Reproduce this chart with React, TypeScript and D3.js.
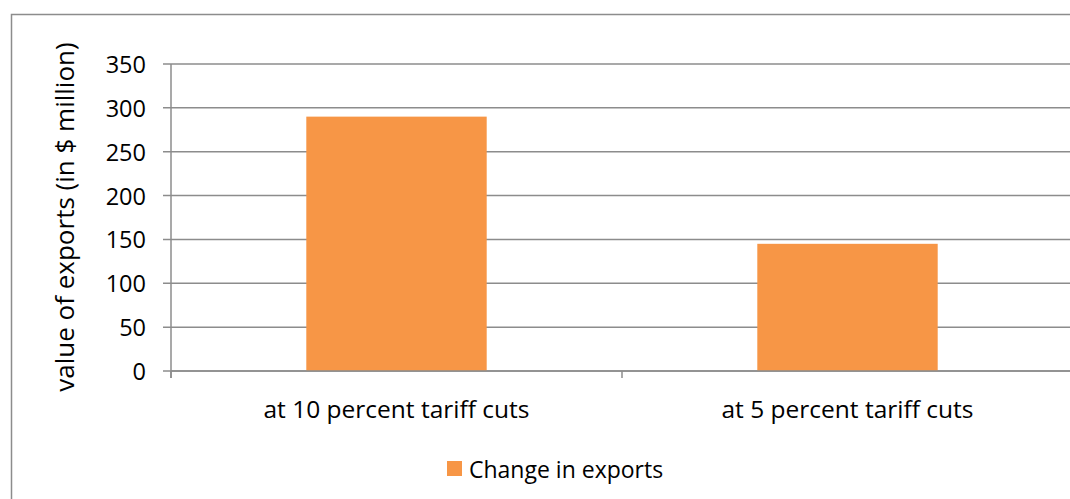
import React from "react";
import * as d3 from "d3";

const categories = ["at 10 percent tariff cuts", "at 5 percent tariff cuts"];
const values = [290, 145];
const yTicks = [0, 50, 100, 150, 200, 250, 300, 350];
const seriesName = "Change in exports";
const yTitle = "value of exports (in $ million)";

const W = 1070;
const H = 499;
const FONT = "'Open Sans', 'Liberation Sans', sans-serif";

export default function App() {
  const left = 171;
  const right = 1073;
  const top = 64;
  const bottom = 371;
  const x = d3.scaleBand<string>().domain(categories).range([left, right]).paddingInner(0).paddingOuter(0);
  const y = d3.scaleLinear().domain([0, 350]).range([bottom, top]);
  const bw = x.bandwidth() * 0.4;
  const grid = "#8c8c8c";
  const orange = "#f79646";
  return (
    <svg width={W} height={H} style={{ position: "absolute", left: 0, top: 0, background: "#fff" }}>
      <rect x={11.5} y={14.5} width={1080} height={600} fill="#fff" stroke="#8c8c8c" strokeWidth={1.5} />
      {yTicks.map((t) => (
        <g key={t}>
          <line x1={163} x2={right} y1={y(t)} y2={y(t)} stroke={grid} strokeWidth={1.5} />
          <text x={146} y={y(t)} textAnchor="end" dominantBaseline="central" fontFamily={FONT} fontSize={23.5} fill="#000">
            {t}
          </text>
        </g>
      ))}
      <line x1={left} x2={left} y1={top} y2={bottom + 7} stroke={grid} strokeWidth={1.5} />
      {categories.map((c, i) => (
        <g key={c}>
          <line x1={x(c)!} x2={x(c)!} y1={bottom} y2={bottom + 7} stroke={grid} strokeWidth={1.5} />
          <rect x={x(c)! + x.bandwidth() / 2 - bw / 2} y={y(values[i])} width={bw} height={y(0) - y(values[i])} fill={orange} />
          <text x={x(c)! + x.bandwidth() / 2} y={408} textAnchor="middle" dominantBaseline="central" fontFamily={FONT} fontSize={24.5} fill="#000">
            {c}
          </text>
        </g>
      ))}
      <line x1={left} x2={right} y1={bottom} y2={bottom} stroke={grid} strokeWidth={1.5} />
      <text transform={`translate(64,217) rotate(-90)`} textAnchor="middle" dominantBaseline="central" fontFamily={FONT} fontSize={26} fill="#000">
        {yTitle}
      </text>
      <rect x={447} y={461} width={15} height={15} fill={orange} />
      <text x={469} y={469} dominantBaseline="central" fontFamily={FONT} fontSize={23} fill="#000">
        {seriesName}
      </text>
    </svg>
  );
}
